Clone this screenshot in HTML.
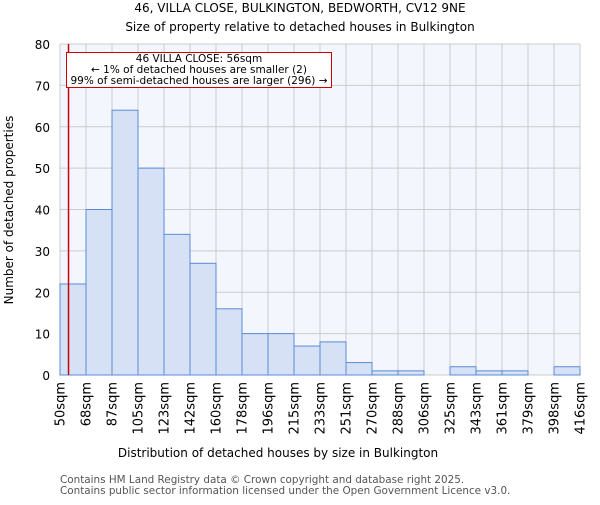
<!DOCTYPE html>
<html><head><meta charset="utf-8"><style>
body{margin:0;background:#fff;font-family:"Liberation Sans","DejaVu Sans",sans-serif}
</style></head><body>
<svg width="600" height="500" xmlns="http://www.w3.org/2000/svg" font-family="DejaVu Sans, Liberation Sans, sans-serif">
<text x="300" y="12" text-anchor="middle" font-size="12">46, VILLA CLOSE, BULKINGTON, BEDWORTH, CV12 9NE</text>
<text x="300" y="31" text-anchor="middle" font-size="12">Size of property relative to detached houses in Bulkington</text>
<rect x="60" y="44" width="520" height="331" fill="#f3f6fd"/>
<g id="grid"></g><g id="bars"></g><g id="axes"></g>
<text x="278" y="457" text-anchor="middle" font-size="12">Distribution of detached houses by size in Bulkington</text>
<text transform="translate(13,210) rotate(-90)" text-anchor="middle" font-size="12">Number of detached properties</text>
<text x="60" y="483" font-size="10.4" fill="#555">Contains HM Land Registry data © Crown copyright and database right 2025.</text>
<text x="60" y="494" font-size="10.4" fill="#555">Contains public sector information licensed under the Open Government Licence v3.0.</text>
<line id="marker" y1="44" y2="375" stroke="#cc0000" stroke-width="1.5"/>
<g>
<rect x="66.5" y="52.5" width="265" height="35" fill="#fff" stroke="#cc0000" stroke-width="1"/>
<text x="199" y="62" text-anchor="middle" font-size="10.5">46 VILLA CLOSE: 56sqm</text>
<text x="199" y="73" text-anchor="middle" font-size="10.5">← 1% of detached houses are smaller (2)</text>
<text x="199" y="84" text-anchor="middle" font-size="10.5">99% of semi-detached houses are larger (296) →</text>
</g>
</svg>
<script>
const tickLabels=["50sqm","68sqm","87sqm","105sqm","123sqm","142sqm","160sqm","178sqm","196sqm","215sqm","233sqm","251sqm","270sqm","288sqm","306sqm","325sqm","343sqm","361sqm","379sqm","398sqm","416sqm"];
const counts=[22,40,64,50,34,27,16,10,10,7,8,3,1,1,0,2,1,1,0,2];
const yTicks=[0,10,20,30,40,50,60,70,80];
const propertySize=56;
const binStart=50, binEnd=416;
const L=60,R=580,T=44,B=375,YMAX=80;
const ns="http://www.w3.org/2000/svg";
const bw=(R-L)/counts.length;
const xi=i=>L+i*bw;
const y=v=>B-(v/YMAX)*(B-T);
const xv=v=>L+(v-binStart)/(binEnd-binStart)*(R-L);
const grid=document.getElementById('grid'),bars=document.getElementById('bars'),axes=document.getElementById('axes');
function mk(tag,attrs,parent){const e=document.createElementNS(ns,tag);for(const k in attrs)e.setAttribute(k,attrs[k]);parent.appendChild(e);return e;}
yTicks.forEach(t=>{
 const g=mk('line',{x1:L,x2:R,y1:y(t),y2:y(t),stroke:'#cccccc','stroke-width':1},grid);
 
 
 const tx=mk('text',{x:50,y:y(t)+5,'text-anchor':'end','font-size':12},axes);
 tx.textContent=t;
 
 
});
tickLabels.forEach((lab,i)=>{
 const g=mk('line',{x1:xi(i),x2:xi(i),y1:T,y2:B,stroke:'#cccccc','stroke-width':1},grid);
 
 
 const tx=mk('text',{transform:`translate(${xi(i)+4.5},382) rotate(-90)`,'text-anchor':'end','font-size':13},axes);
 tx.textContent=lab;
 
 
});
counts.forEach((c,i)=>{
 if(c<=0)return;
 const r=mk('rect',{x:xi(i),y:y(c),width:bw,height:B-y(c),fill:'#d6e1f5',stroke:'#5a8ad6','stroke-width':1},bars);
 
 
});
const m=document.getElementById('marker');
m.setAttribute('x1',xv(propertySize));m.setAttribute('x2',xv(propertySize));
</script>
</body></html>
